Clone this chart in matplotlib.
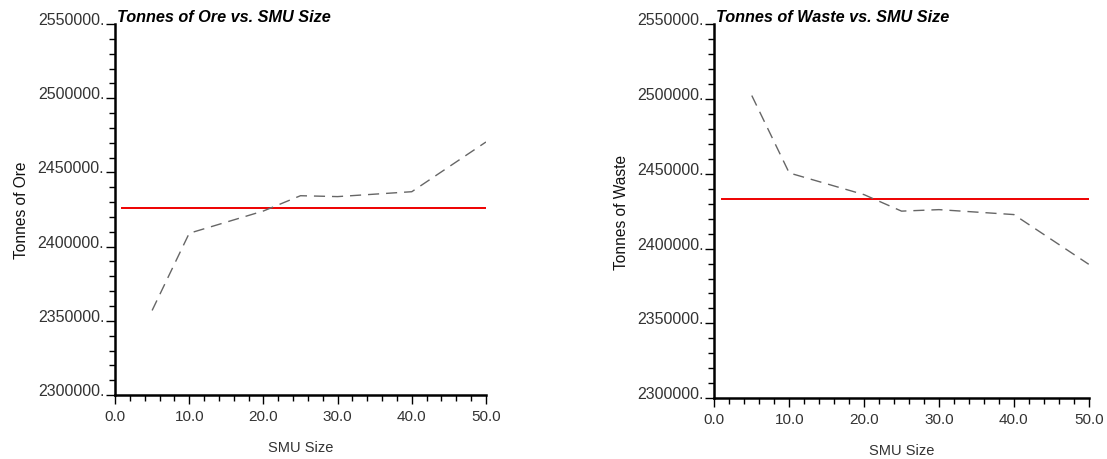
import matplotlib.pyplot as plt
from matplotlib.ticker import FuncFormatter, MultipleLocator

plt.rcParams['font.family'] = ['Liberation Sans', 'DejaVu Sans']

smu_size = [5, 10, 20, 25, 30, 40, 50]
ore_tonnes = [2357000, 2409000, 2424000, 2434300, 2433700, 2437000, 2470500]
waste_tonnes = [2502200, 2450500, 2436000, 2425000, 2426000, 2422700, 2389500]
ore_reference = 2426300
waste_reference = 2433300
ref_x = [1, 50]

panels = [
    ("Tonnes of Ore vs. SMU Size", "Tonnes of Ore", ore_tonnes, ore_reference,
     [0.1039, 0.139, 0.3351, 0.8067]),
    ("Tonnes of Waste vs. SMU Size", "Tonnes of Waste", waste_tonnes, waste_reference,
     [0.6453, 0.132, 0.3382, 0.8137]),
]

fig = plt.figure(figsize=(11.07, 4.6), dpi=100)

for title, ylabel, values, ref, rect in panels:
    ax = fig.add_axes(rect)
    ax.plot(ref_x, [ref, ref], color='#ee0000', lw=1.4, zorder=2)
    ax.plot(smu_size, values, color='#666666', lw=1.0, dashes=(8, 5), zorder=3)

    ax.set_xlim(0, 50)
    ax.set_ylim(2300000, 2550000)
    ax.xaxis.set_major_locator(MultipleLocator(10))
    ax.xaxis.set_minor_locator(MultipleLocator(2))
    ax.yaxis.set_major_locator(MultipleLocator(50000))
    ax.yaxis.set_minor_locator(MultipleLocator(10000))
    ax.xaxis.set_major_formatter(FuncFormatter(lambda v, p: f"{v:.1f}"))
    ax.yaxis.set_major_formatter(FuncFormatter(lambda v, p: f"{v:.0f}."))

    for side in ['top', 'right']:
        ax.spines[side].set_visible(False)
    for side in ['left', 'bottom']:
        ax.spines[side].set_linewidth(1.8)

    ax.tick_params(axis='both', which='major', direction='out', length=6.2, width=1.0,
                   labelcolor='#333333')
    ax.tick_params(axis='both', which='minor', direction='out', length=4, width=1.0)
    ax.tick_params(axis='y', which='major', pad=1.5, labelsize=11.5)
    ax.tick_params(axis='x', which='major', pad=4, labelsize=11)
    for lab in ax.get_yticklabels():
        lab.set_verticalalignment('baseline')

    ax.set_xlabel("SMU Size", fontsize=10.5, color='#333333', labelpad=12)
    ax.set_ylabel(ylabel, fontsize=11.2, color='#111111', labelpad=6)
    ax.text(0.005, 1.0, title, transform=ax.transAxes, fontsize=11.7,
            fontweight='bold', fontstyle='italic', ha='left', va='bottom')

fig.savefig('out.png', dpi=100)
